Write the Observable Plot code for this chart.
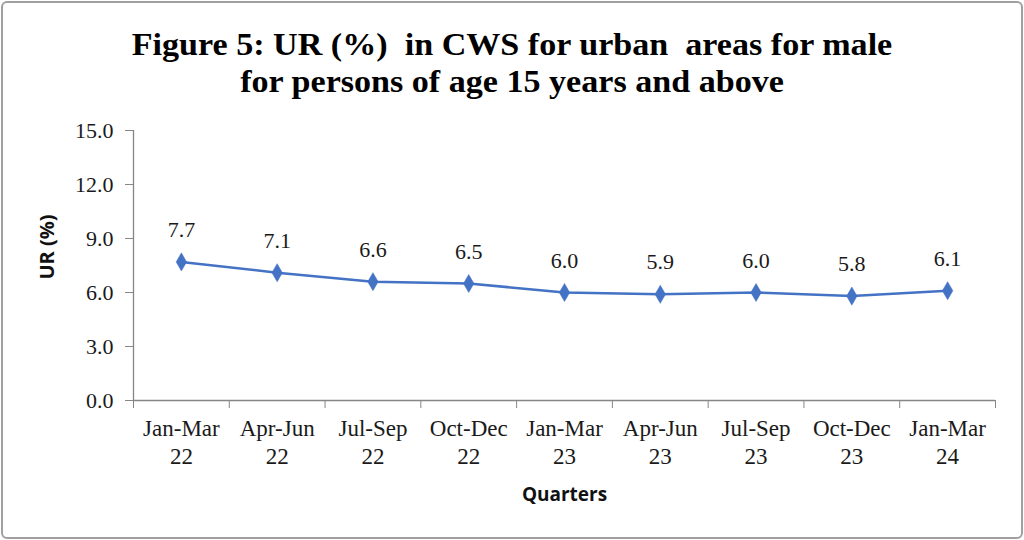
<!DOCTYPE html>
<html><head><meta charset="utf-8">
<script src="https://cdn.jsdelivr.net/npm/d3@7"></script>
<script src="https://cdn.jsdelivr.net/npm/@observablehq/plot@0.6"></script>
<style>
html,body{margin:0;padding:0;background:#fff;}
#wrap{position:relative;width:1024px;height:540px;overflow:hidden;background:#fff;}
#frame{position:absolute;left:1px;top:1px;right:1px;bottom:1px;border:2px solid #a0a0a0;border-radius:6px;box-sizing:border-box;pointer-events:none;}
#title{position:absolute;left:0;top:26px;width:1024px;text-align:center;font-family:"Liberation Serif","Times New Roman",serif;font-weight:bold;font-size:32px;line-height:37px;color:#000;white-space:pre;transform:scaleX(1.065);transform-origin:512px 0;}
#chart{position:absolute;left:0;top:110px;}
</style></head><body>
<div id="wrap">
<div id="title">Figure 5: UR (%)  in CWS for urban  areas for male
for persons of age 15 years and above</div>
<div id="chart"></div>
<div id="frame"></div>
</div>
<script>
const quarters = ["Jan-Mar\n22", "Apr-Jun\n22", "Jul-Sep\n22", "Oct-Dec\n22", "Jan-Mar\n23", "Apr-Jun\n23", "Jul-Sep\n23", "Oct-Dec\n23", "Jan-Mar\n24"];
const urValues = [7.7, 7.1, 6.6, 6.5, 6.0, 5.9, 6.0, 5.8, 6.1];
const yTicks = [0, 3, 6, 9, 12, 15];
const yTitle = "UR (%)";
const xTitle = "Quarters";

const data = quarters.map((q, i) => ({i: i + 0.5, q, v: urValues[i]}));
const blue = "#4472C4";
const axisColor = "#868686";
const serif = "'Liberation Serif', 'Times New Roman', serif";
const sans = "'Open Sans', 'Liberation Sans', sans-serif";

const chart = Plot.plot({
  width: 1024,
  height: 430,
  marginTop: 20,
  marginBottom: 140,
  marginLeft: 133,
  marginRight: 29,
  x: {domain: [0, quarters.length], axis: null},
  y: {domain: [0, 15], axis: null},
  style: {fontFamily: serif, fontSize: "20px", color: "#1a1a1a", background: "transparent", overflow: "visible"},
  marks: [
    Plot.ruleX([0], {stroke: axisColor, strokeWidth: 1.3}),
    Plot.ruleY([0], {stroke: axisColor, strokeWidth: 1.3}),
    Plot.axisY({ticks: yTicks, tickFormat: d3.format(".1f"), tickSize: 8, tickPadding: 12, stroke: axisColor, label: null, fontSize: 22}),
    Plot.axisX({ticks: d3.range(quarters.length + 1), tickFormat: () => "", tickSize: 8, stroke: axisColor, label: null}),
    Plot.axisX({ticks: data.map(d => d.i), tickFormat: (t) => quarters[Math.floor(t)], tickSize: 0, tickPadding: 16, lineHeight: 1.22, label: null, fontSize: 23}),
    Plot.line(data, {x: "i", y: "v", stroke: blue, strokeWidth: 2.5}),
    Plot.dot(data, {x: "i", y: "v", symbol: "diamond", r: 5.5, fill: blue, stroke: blue, strokeWidth: 0.5}),
    Plot.text(data, {x: "i", y: "v", text: d => d.v.toFixed(1), dy: -32, fontSize: 22, fill: "#1a1a1a"}),
    Plot.text([yTitle], {frameAnchor: "left", rotate: -90, dx: -86, dy: 14, fontFamily: sans, fontWeight: "bold", fontSize: 20, fill: "#111"}),
    Plot.text([xTitle], {frameAnchor: "bottom", dy: 100, fontFamily: sans, fontWeight: "bold", fontSize: 19, fill: "#111"})
  ]
});
document.getElementById("chart").appendChild(chart);
</script>
</body></html>
